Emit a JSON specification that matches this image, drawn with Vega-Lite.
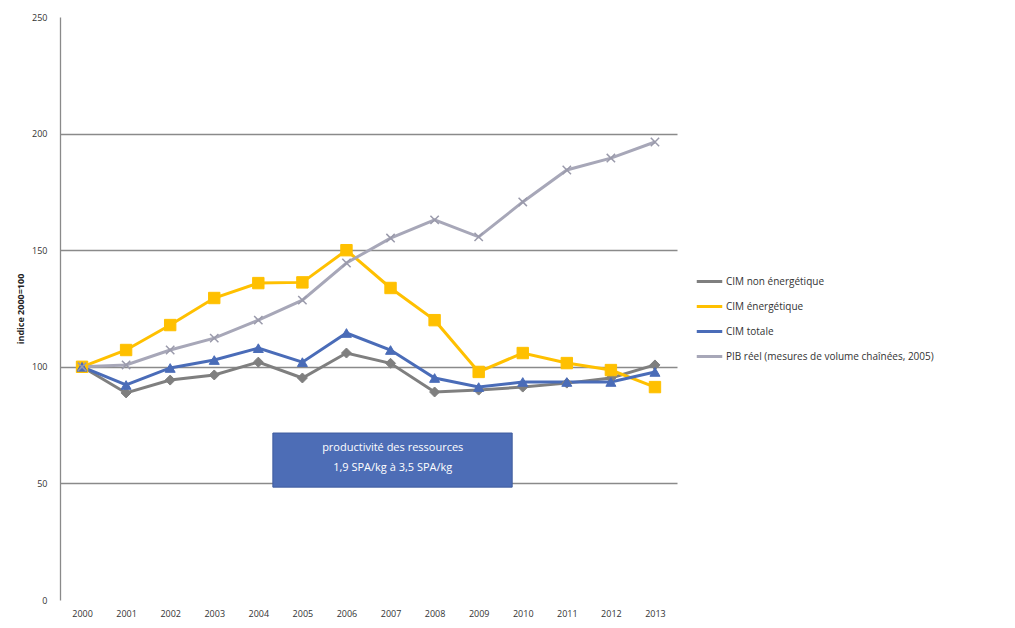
{
  "$schema": "https://vega.github.io/schema/vega-lite/v6.json",
  "width": 617,
  "height": 583,
  "autosize": {"type": "none"},
  "padding": {"left": 60, "top": 17, "right": 338, "bottom": 28},
  "background": "white",
  "config": {"view": {"stroke": null}, "font": "Open Sans"},
  "datasets": {
    "series": [
      {"year": 2000, "series": "CIM non énergétique", "value": 100},
      {"year": 2001, "series": "CIM non énergétique", "value": 88.8},
      {"year": 2002, "series": "CIM non énergétique", "value": 94.3},
      {"year": 2003, "series": "CIM non énergétique", "value": 96.5},
      {"year": 2004, "series": "CIM non énergétique", "value": 102},
      {"year": 2005, "series": "CIM non énergétique", "value": 95.2},
      {"year": 2006, "series": "CIM non énergétique", "value": 105.9},
      {"year": 2007, "series": "CIM non énergétique", "value": 101.5},
      {"year": 2008, "series": "CIM non énergétique", "value": 89.2},
      {"year": 2009, "series": "CIM non énergétique", "value": 90},
      {"year": 2010, "series": "CIM non énergétique", "value": 91.3},
      {"year": 2011, "series": "CIM non énergétique", "value": 93},
      {"year": 2012, "series": "CIM non énergétique", "value": 95.2},
      {"year": 2013, "series": "CIM non énergétique", "value": 100.8},
      {"year": 2000, "series": "CIM énergétique", "value": 100},
      {"year": 2001, "series": "CIM énergétique", "value": 107.2},
      {"year": 2002, "series": "CIM énergétique", "value": 117.9},
      {"year": 2003, "series": "CIM énergétique", "value": 129.5},
      {"year": 2004, "series": "CIM énergétique", "value": 135.9},
      {"year": 2005, "series": "CIM énergétique", "value": 136.2},
      {"year": 2006, "series": "CIM énergétique", "value": 150},
      {"year": 2007, "series": "CIM énergétique", "value": 133.8},
      {"year": 2008, "series": "CIM énergétique", "value": 120},
      {"year": 2009, "series": "CIM énergétique", "value": 97.8},
      {"year": 2010, "series": "CIM énergétique", "value": 105.9},
      {"year": 2011, "series": "CIM énergétique", "value": 101.6},
      {"year": 2012, "series": "CIM énergétique", "value": 98.6},
      {"year": 2013, "series": "CIM énergétique", "value": 91.3},
      {"year": 2000, "series": "CIM totale", "value": 100},
      {"year": 2001, "series": "CIM totale", "value": 92.2},
      {"year": 2002, "series": "CIM totale", "value": 99.5},
      {"year": 2003, "series": "CIM totale", "value": 102.9},
      {"year": 2004, "series": "CIM totale", "value": 108},
      {"year": 2005, "series": "CIM totale", "value": 102},
      {"year": 2006, "series": "CIM totale", "value": 114.5},
      {"year": 2007, "series": "CIM totale", "value": 107.2},
      {"year": 2008, "series": "CIM totale", "value": 95.2},
      {"year": 2009, "series": "CIM totale", "value": 91.3},
      {"year": 2010, "series": "CIM totale", "value": 93.5},
      {"year": 2011, "series": "CIM totale", "value": 93.5},
      {"year": 2012, "series": "CIM totale", "value": 93.5},
      {"year": 2013, "series": "CIM totale", "value": 97.8},
      {"year": 2000, "series": "PIB réel (mesures de volume chaînées, 2005)", "value": 100},
      {"year": 2001, "series": "PIB réel (mesures de volume chaînées, 2005)", "value": 100.8},
      {"year": 2002, "series": "PIB réel (mesures de volume chaînées, 2005)", "value": 107.2},
      {"year": 2003, "series": "PIB réel (mesures de volume chaînées, 2005)", "value": 112.3},
      {"year": 2004, "series": "PIB réel (mesures de volume chaînées, 2005)", "value": 120},
      {"year": 2005, "series": "PIB réel (mesures de volume chaînées, 2005)", "value": 128.6},
      {"year": 2006, "series": "PIB réel (mesures de volume chaînées, 2005)", "value": 144.5},
      {"year": 2007, "series": "PIB réel (mesures de volume chaînées, 2005)", "value": 155.2},
      {"year": 2008, "series": "PIB réel (mesures de volume chaînées, 2005)", "value": 163},
      {"year": 2009, "series": "PIB réel (mesures de volume chaînées, 2005)", "value": 155.7},
      {"year": 2010, "series": "PIB réel (mesures de volume chaînées, 2005)", "value": 170.7},
      {"year": 2011, "series": "PIB réel (mesures de volume chaînées, 2005)", "value": 184.4},
      {"year": 2012, "series": "PIB réel (mesures de volume chaînées, 2005)", "value": 189.5},
      {"year": 2013, "series": "PIB réel (mesures de volume chaînées, 2005)", "value": 196.4}
    ],
    "box": [{"year": 2004.33, "year2": 2009.76, "value": 48.4, "value2": 71.6}],
    "notes": [
      {"year": 2007.05, "value": 65.2, "label": "productivité des ressources"},
      {"year": 2007.05, "value": 56.6, "label": "1,9 SPA/kg à 3,5 SPA/kg"}
    ]
  },
  "layer": [
    {
      "data": {"name": "box"},
      "mark": {"type": "rect", "fill": "#4D6DB6", "stroke": "#3F5C9E", "strokeWidth": 1},
      "encoding": {
        "x": {"field": "year", "type": "quantitative", "title": null, "scale": {"domain": [1999.5, 2013.5], "nice": false, "zero": false}},
        "x2": {"field": "year2"},
        "y": {"field": "value", "type": "quantitative", "title": "indice 2000=100", "scale": {"domain": [0, 250], "nice": false}},
        "y2": {"field": "value2"}
      }
    },
    {
      "data": {"name": "notes"},
      "mark": {"type": "text", "color": "white", "fontSize": 11, "align": "center", "baseline": "middle"},
      "encoding": {
        "x": {"field": "year", "type": "quantitative", "title": null},
        "y": {"field": "value", "type": "quantitative", "title": "indice 2000=100"},
        "text": {"field": "label"}
      }
    },
    {
      "data": {"name": "series"},
      "mark": {"type": "line", "strokeWidth": 3},
      "encoding": {
        "x": {
          "field": "year", "type": "quantitative", "title": null,
          "axis": {"values": [2000, 2001, 2002, 2003, 2004, 2005, 2006, 2007, 2008, 2009, 2010, 2011, 2012, 2013], "format": "d", "grid": false, "ticks": false, "domain": false, "labelFontSize": 9, "labelColor": "#333333", "labelPadding": 9, "labelFlush": false}
        },
        "y": {
          "field": "value", "type": "quantitative", "title": "indice 2000=100",
          "axis": {"values": [0, 50, 100, 150, 200, 250], "grid": true, "gridColor": "#8a8a8a", "gridWidth": 1.3, "gridOpacity": {"condition": {"test": "datum.value == 0 || datum.value == 250", "value": 0}, "value": 1}, "domainColor": "#8a8a8a", "domainWidth": 1.3, "ticks": false, "labelFontSize": 9, "labelColor": "#333333", "labelPadding": 13, "titleFontSize": 9, "titleFontWeight": "bold", "titleColor": "#222222", "titlePadding": 6}
        },
        "color": {
          "field": "series", "type": "nominal", "sort": null,
          "scale": {"domain": ["CIM non énergétique", "CIM énergétique", "CIM totale", "PIB réel (mesures de volume chaînées, 2005)"], "range": ["#7f7f7f", "#ffc000", "#4a6cb8", "#a7a7b8"]},
          "legend": {"orient": "none", "legendX": 635, "legendY": 250, "title": null, "symbolType": "stroke", "symbolStrokeWidth": 3, "symbolSize": 650, "labelFontSize": 10, "labelColor": "#333333", "rowPadding": 4, "labelOffset": 2, "labelLimit": 400}
        }
      }
    },
    {
      "data": {"name": "series"},
      "transform": [{"filter": "datum.series == 'CIM non énergétique'"}],
      "mark": {"type": "point", "shape": "diamond", "size": 100, "filled": true, "opacity": 1, "fill": "#7f7f7f", "stroke": "#7f7f7f", "strokeWidth": 1},
      "encoding": {
        "x": {"field": "year", "type": "quantitative", "title": null},
        "y": {"field": "value", "type": "quantitative", "title": "indice 2000=100"}
      }
    },
    {
      "data": {"name": "series"},
      "transform": [{"filter": "datum.series == 'CIM énergétique'"}],
      "mark": {"type": "point", "shape": "square", "size": 130, "filled": true, "opacity": 1, "fill": "#ffc000", "stroke": "#ffc000", "strokeWidth": 1},
      "encoding": {
        "x": {"field": "year", "type": "quantitative", "title": null},
        "y": {"field": "value", "type": "quantitative", "title": "indice 2000=100"}
      }
    },
    {
      "data": {"name": "series"},
      "transform": [{"filter": "datum.series == 'CIM totale'"}],
      "mark": {"type": "point", "shape": "triangle-up", "size": 100, "filled": true, "opacity": 1, "fill": "#4a6cb8", "stroke": "#4a6cb8", "strokeWidth": 1},
      "encoding": {
        "x": {"field": "year", "type": "quantitative", "title": null},
        "y": {"field": "value", "type": "quantitative", "title": "indice 2000=100"}
      }
    },
    {
      "data": {"name": "series"},
      "transform": [{"filter": "datum.series == 'PIB réel (mesures de volume chaînées, 2005)'"}],
      "mark": {"type": "point", "shape": "M-1,-1L1,1M-1,1L1,-1", "size": 70, "filled": false, "opacity": 1, "stroke": "#9a9aab", "strokeWidth": 1.5},
      "encoding": {
        "x": {"field": "year", "type": "quantitative", "title": null},
        "y": {"field": "value", "type": "quantitative", "title": "indice 2000=100"}
      }
    }
  ]
}
